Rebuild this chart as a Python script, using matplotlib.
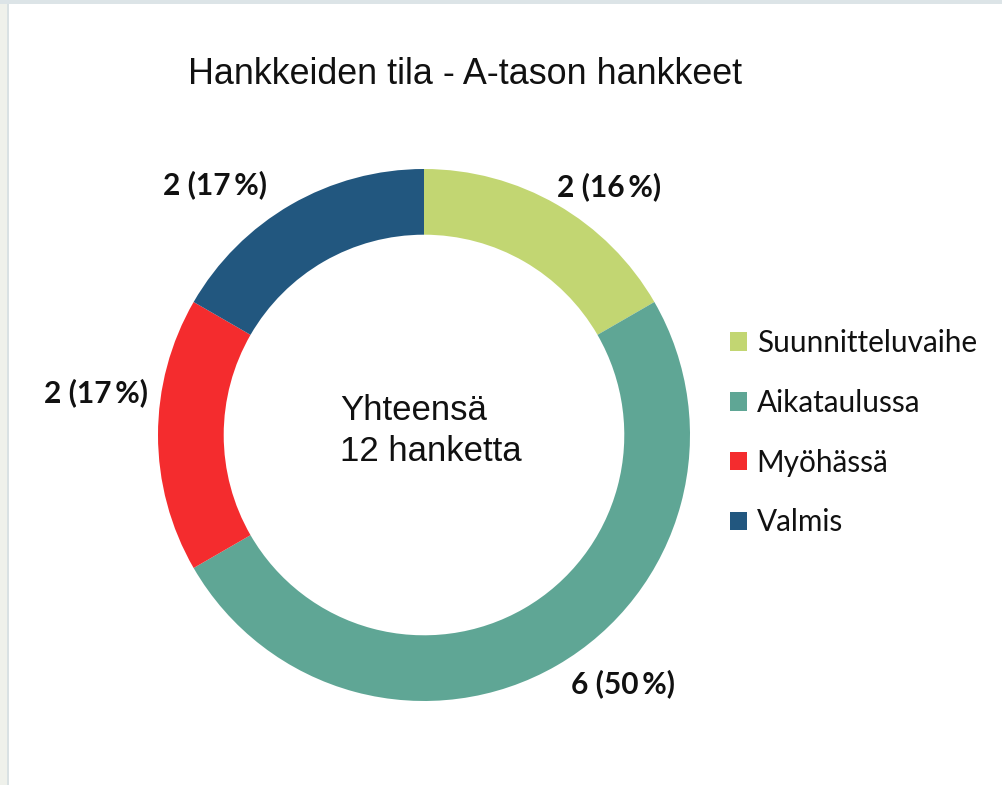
import matplotlib
matplotlib.use("Agg")
import matplotlib.pyplot as plt
from matplotlib.patches import Rectangle, Patch

title = "Hankkeiden tila - A-tason hankkeet"
categories = ["Suunnitteluvaihe", "Aikataulussa", "Myöhässä", "Valmis"]
values = [2, 6, 2, 2]
pct_labels = ["16", "50", "17", "17"]
colors = ["#C2D672", "#5FA695", "#F42C2E", "#22577F"]
center_text = "Yhteensä\n12 hanketta"

W, H = 1003, 785
fig = plt.figure(figsize=(W / 100, H / 100), dpi=100)
fig.patch.set_facecolor("white")

# frame decorations (left strip and top border)
fig.add_artist(Rectangle((0, 0), 7 / W, 1, transform=fig.transFigure,
                         facecolor="#EFF1EB", edgecolor="none"))
fig.add_artist(Rectangle((7 / W, 0), 2 / W, 1, transform=fig.transFigure,
                         facecolor="#D9E1E3", edgecolor="none"))
fig.add_artist(Rectangle((0, 1 - 4 / H), 1, 4 / H, transform=fig.transFigure,
                         facecolor="#DCE4E7", edgecolor="none"))

cx, cy, R = 424, 435, 266
ax = fig.add_axes([(cx - R) / W, (H - cy - R) / H, 2 * R / W, 2 * R / H])
wedges, _ = ax.pie(values, colors=colors, startangle=90, counterclock=False,
                   radius=1.0, wedgeprops=dict(width=0.247, edgecolor="none"))
ax.set_xlim(-1, 1)
ax.set_ylim(-1, 1)
ax.set_aspect("auto")
ax.axis("off")

# data labels (pixel positions of label centres, relative to figure)
label_pos = [(609, 187), (623, 684), (96, 393), (215, 185)]
for v, p, (lx, ly) in zip(values, pct_labels, label_pos):
    ax.text((lx - cx) / R, (cy - ly) / R, f"{v} ({p}\u2009%)",
            ha="center", va="center", fontsize=21.5, fontweight="bold",
            family=["Lato", "DejaVu Sans"], color="#111111")

# centre text
ax.text((340 - cx) / R, (cy - 431) / R, center_text, ha="left", va="center",
        fontsize=25, family=["Liberation Sans", "DejaVu Sans"],
        color="#111111", linespacing=1.27)

fig.text(465 / W, 1 - 74 / H, title, ha="center", va="center", fontsize=25.8,
         family=["Liberation Sans", "DejaVu Sans"], color="#111111")

handles = [Patch(facecolor=c, edgecolor="none") for c in colors]
leg = fig.legend(handles, categories, loc="upper left",
                 bbox_to_anchor=(730 / W, 1 - 329 / H), frameon=False,
                 prop=dict(family=["Lato", "DejaVu Sans"], size=21.4),
                 handlelength=0.58, handleheight=0.58, handletextpad=0.32,
                 labelspacing=1.07, borderpad=0, borderaxespad=0)
for t in leg.get_texts():
    t.set_color("#111111")

fig.savefig("out.png", dpi=100, facecolor="white")
